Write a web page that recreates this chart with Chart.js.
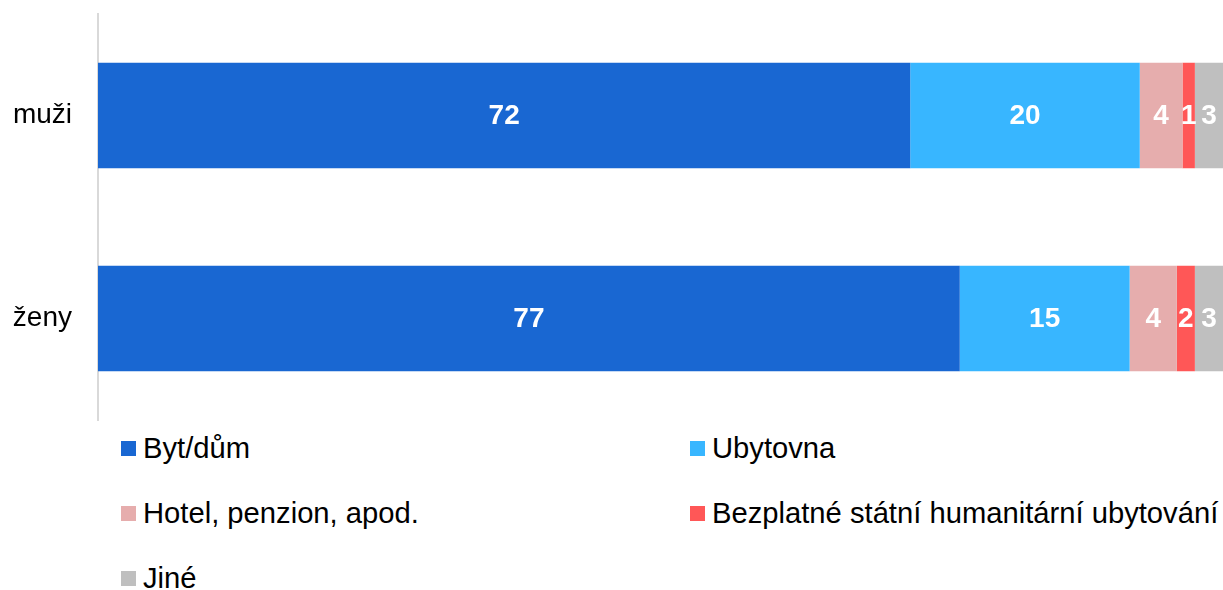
<!DOCTYPE html>
<html>
<head>
<meta charset="utf-8">
<script src="https://cdn.jsdelivr.net/npm/chart.js@4"></script>
<style>
  body { margin: 0; background: #fff; font-family: "Liberation Sans", Arial, sans-serif; }
  #wrap { position: relative; width: 1223px; height: 590px; }
  #box { position: absolute; left: 0; top: 0; width: 1223px; height: 425px; }
  #legend {
    position: absolute; left: 121px; top: 432px;
    display: grid; grid-template-columns: 569px auto; grid-auto-rows: 65px;
    font-size: 29.2px; color: #000;
  }
  .item { display: flex; align-items: center; height: 32px; }
  .box { width: 15px; height: 15px; margin-right: 7px; flex: none; }
</style>
</head>
<body>
<div id="wrap">
  <div id="box"><canvas id="chart"></canvas></div>
  <div id="legend"></div>
</div>
<script>
var categories = ['muži', 'ženy'];
var seriesNames = ['Byt/dům', 'Ubytovna', 'Hotel, penzion, apod.', 'Bezplatné státní humanitární ubytování', 'Jiné'];
var bytDum = [72.2, 76.6];
var ubytovna = [20.4, 15.1];
var hotel = [3.8, 4.2];
var humanitarni = [1.1, 1.6];
var jine = [2.5, 2.5];
var colors = ['#1967D2', '#38B6FF', '#E6ADAD', '#FF5757', '#BFBFBF'];

var ctx = document.getElementById('chart').getContext('2d');

// simple inline data labels, centred in each segment
var barLabels = {
    id: 'barLabels',
    afterDatasetsDraw: function(chart) {
        var c = chart.ctx;
        c.save();
        c.font = 'bold 28px "Liberation Sans", Arial, sans-serif';
        c.fillStyle = '#fff';
        c.textAlign = 'center';
        c.textBaseline = 'middle';
        chart.data.datasets.forEach(function(ds, i) {
            chart.getDatasetMeta(i).data.forEach(function(bar, j) {
                c.fillText(Math.round(ds.data[j]), (bar.x + bar.base) / 2, bar.y + 1);
            });
        });
        c.restore();
    }
};

var allSeries = [bytDum, ubytovna, hotel, humanitarni, jine];

var chart = new Chart(ctx, {
    type: 'bar',
    data: {
        labels: categories,
        datasets: allSeries.map(function(vals, i) {
            return {
                label: seriesNames[i],
                data: vals,
                backgroundColor: colors[i],
                borderWidth: 0,
                categoryPercentage: 1,
                barPercentage: 0.52
            };
        })
    },
    options: {
        indexAxis: 'y',
        responsive: true,
        maintainAspectRatio: false,
        animation: false,
        layout: { padding: { top: 14, bottom: 5, right: 0 } },
        plugins: { legend: { display: false }, tooltip: { enabled: false } },
        scales: {
            x: { stacked: true, min: 0, max: 100, display: false },
            y: {
                stacked: true,
                grid: { display: false, drawTicks: false },
                border: { display: true, color: '#D9D9D9', width: 2 },
                ticks: {
                    color: '#000',
                    padding: 26,
                    font: { family: '"Liberation Sans", Arial, sans-serif', size: 28 }
                },
                afterFit: function(scale) {
                    scale.width = 98;
                    scale.paddingTop = 0;
                    scale.paddingBottom = 0;
                }
            }
        }
    },
    plugins: [barLabels]
});

var legend = document.getElementById('legend');
chart.data.datasets.forEach(function(ds) {
    var item = document.createElement('div');
    item.className = 'item';
    var box = document.createElement('span');
    box.className = 'box';
    box.style.background = ds.backgroundColor;
    var txt = document.createElement('span');
    txt.textContent = ds.label;
    item.appendChild(box);
    item.appendChild(txt);
    legend.appendChild(item);
});
</script>
</body>
</html>
